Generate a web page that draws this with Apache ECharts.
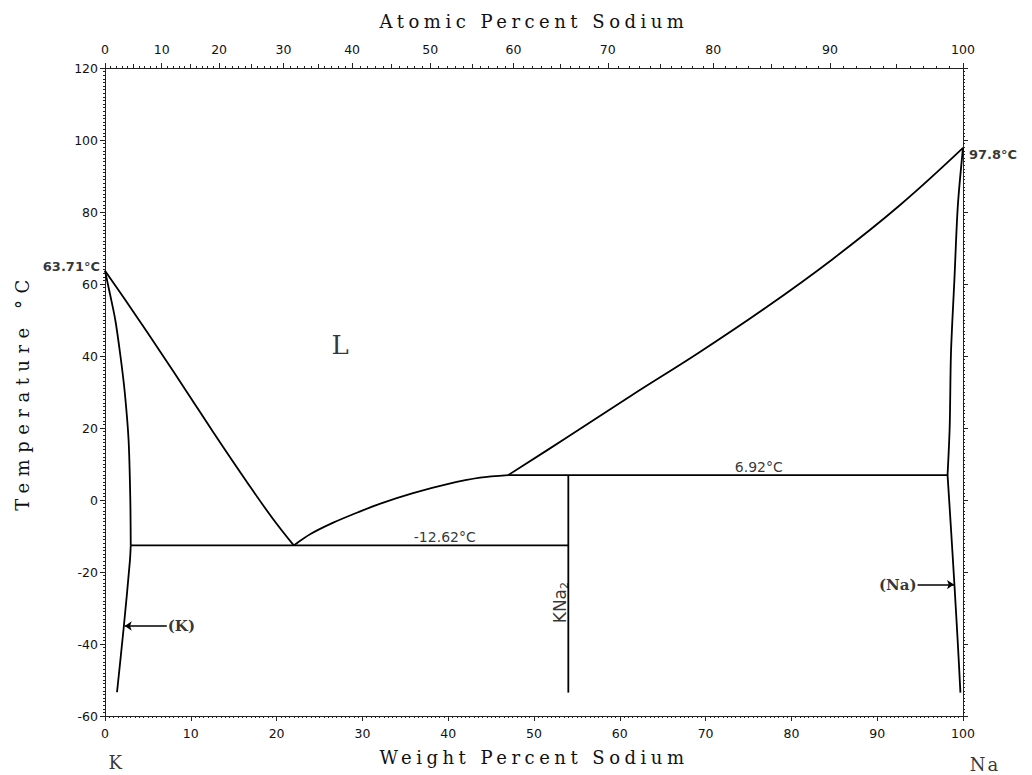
<!DOCTYPE html>
<html>
<head>
<meta charset="utf-8">
<script src="https://cdn.jsdelivr.net/npm/echarts@6/dist/echarts.min.js"></script>
<style>
html,body{margin:0;padding:0;background:#fff;}
#chart{width:1032px;height:775px;}
</style>
</head>
<body>
<div id="chart"></div>
<script>
// ---------- data (weight % Na, temperature °C) ----------
const atomicLabels = [0, 10, 20, 30, 40, 50, 60, 70, 80, 90, 100];
const atomicPosWt  = [0, 6.6, 13.3, 20.8, 28.8, 37.9, 47.6, 58.6, 70.9, 84.5, 100];

const kLiquidus    = [[0,63.71],[3.3,52.3],[6.5,41.0],[9.6,29.8],[12.6,18.9],[16.6,4.8],[19.5,-5.0],[22,-12.62]];
const kna2Liquidus = [[22,-12.62],[24,-9.4],[26.6,-6.3],[29.5,-3.4],[32.1,-1.0],[35.9,1.9],[39.9,4.4],[43.7,6.2],[47,6.92]];
const naLiquidus   = [[47,6.92],[53.6,17.0],[61.4,29.1],[69.2,40.9],[77,53.4],[84.8,66.9],[92.6,81.8],[100,97.8]];
const kSolidus     = [[0,63.71],[0.6,57],[1.2,50],[1.8,40],[2.3,30],[2.75,16.6],[2.95,0],[3.0,-12.62]];
const kSolvus      = [[3.0,-12.62],[2.9,-17],[2.2,-35],[1.4,-53.4]];
const naSolidus    = [[100,97.8],[99.4,81.8],[99.0,61.3],[98.6,40.9],[98.45,20.4],[98.2,6.92]];
const naSolvus     = [[98.2,6.92],[98.6,-8],[99.0,-23.5],[99.4,-40],[99.7,-53.5]];
const eutecticLine   = [[3.0,-12.62],[54,-12.62]];
const peritecticLine = [[47,6.92],[98.2,6.92]];
const kna2Line       = [[54,6.92],[54,-53.5]];
const kArrow  = [[7.2,-35],[2.3,-35]];
const naArrow = [[94.7,-23.5],[98.95,-23.5]];

const noteText = ['63.71°C','97.8°C','6.92°C','-12.62°C','L','(K)','(Na)','K','Na','KNa2'];
const noteAt   = [[0,64.8],[100,96],[76.2,6.92],[39.6,-12.62],[27.4,43],[7.2,-35],[94.7,-23.5],[1.2,-60],[100,-60],[53.0,-28.5]];

// ---------- tick helpers (top atomic-percent axis) ----------
const atomicMinor = [], atomicMid = [];
for (let i = 0; i < atomicPosWt.length - 1; i++) {
  for (let k = 1; k < 10; k++) {
    const v = atomicPosWt[i] + (atomicPosWt[i+1] - atomicPosWt[i]) * k / 10;
    if (k === 5) atomicMid.push(v); else atomicMinor.push(v);
  }
}

const sans = 'DejaVu Sans';
const serif = 'DejaVu Serif';
const BLACK = '#000';

const noteStyles = [
  {position:'left', distance:5, fontFamily:sans, fontWeight:'bold', fontSize:13},
  {position:'right', distance:6, fontFamily:sans, fontWeight:'bold', fontSize:13},
  {position:'top', distance:1, fontFamily:sans, fontSize:14},
  {position:'top', distance:1, fontFamily:sans, fontSize:14},
  {position:'inside', fontFamily:serif, fontSize:26},
  {position:'right', distance:1, fontFamily:serif, fontWeight:'bold', fontSize:15},
  {position:'left', distance:1, fontFamily:serif, fontWeight:'bold', fontSize:15},
  {position:'inside', offset:[0,46], fontFamily:serif, fontSize:18},
  {position:'inside', offset:[22,48], fontFamily:serif, fontSize:18},
  {position:'inside', rotate:90, fontFamily:sans, fontSize:17,
   formatter:'KNa{s|2}', rich:{s:{fontFamily:sans, fontSize:11, padding:[10,0,0,0]}}}
];

function lineSeries(name, data, smooth) {
  return {
    name, type:'line', data, showSymbol:false, symbol:'none',
    smooth: smooth || false,
    lineStyle:{color:BLACK, width:1.8}, silent:true, z:5
  };
}
function arrowSeries(name, coords) {
  return {
    name, type:'lines', coordinateSystem:'cartesian2d',
    symbol:['none','arrow'], symbolSize:7,
    lineStyle:{color:BLACK, width:1.5, opacity:1},
    data:[{coords}], silent:true, z:6
  };
}

const axisLineStyle = {color:'#222', width:1};
const tickLabel = {color:'#111', fontFamily:sans, fontSize:12.5};
const titleStyle = {color:'#111', fontFamily:serif, fontSize:18};

const option = {
  animation:false,
  backgroundColor:'#fff',
  grid:{left:105, right:69, top:68, bottom:59, containLabel:false},
  xAxis:[
    {
      type:'value', position:'bottom', min:0, max:100, interval:10,
      name:'Weight Percent Sodium', nameLocation:'middle', nameGap:32,
      nameTextStyle:titleStyle,
      axisLine:{show:true, onZero:false, lineStyle:axisLineStyle},
      axisTick:{show:true, length:5, lineStyle:axisLineStyle},
      minorTick:{show:true, splitNumber:20, length:2, lineStyle:axisLineStyle},
      axisLabel:Object.assign({margin:11}, tickLabel),
      splitLine:{show:false}
    },
    {
      type:'value', position:'top', min:0, max:100,
      name:'Atomic Percent Sodium', nameLocation:'middle', nameGap:38,
      nameTextStyle:titleStyle,
      axisLine:{show:true, onZero:false, lineStyle:axisLineStyle},
      axisTick:{show:true, length:5, customValues:atomicPosWt, lineStyle:axisLineStyle},
      axisLabel:Object.assign({margin:12, customValues:atomicPosWt,
        formatter:function(v){
          for (let i = 0; i < atomicPosWt.length; i++) {
            if (Math.abs(atomicPosWt[i]-v) < 1e-6) return String(atomicLabels[i]);
          }
          return '';
        }}, tickLabel),
      splitLine:{show:false}
    },
    {
      type:'value', position:'top', min:0, max:100,
      axisLine:{show:false, onZero:false},
      axisTick:{show:true, length:4, customValues:atomicMid, lineStyle:axisLineStyle},
      axisLabel:{show:false}, splitLine:{show:false}
    },
    {
      type:'value', position:'top', min:0, max:100,
      axisLine:{show:false, onZero:false},
      axisTick:{show:true, length:2, customValues:atomicMinor, lineStyle:axisLineStyle},
      axisLabel:{show:false}, splitLine:{show:false}
    }
  ],
  yAxis:[
    {
      type:'value', position:'left', min:-60, max:120, interval:20,
      name:'Temperature °C', nameLocation:'middle', nameGap:74, nameRotate:90,
      nameTextStyle:titleStyle,
      axisLine:{show:true, onZero:false, lineStyle:axisLineStyle},
      axisTick:{show:true, length:5, lineStyle:axisLineStyle},
      minorTick:{show:true, splitNumber:20, length:2, lineStyle:axisLineStyle},
      axisLabel:Object.assign({margin:7}, tickLabel),
      splitLine:{show:false}
    },
    {
      type:'value', position:'right', min:-60, max:120, interval:20,
      axisLine:{show:true, onZero:false, lineStyle:axisLineStyle},
      axisTick:{show:true, length:5, lineStyle:axisLineStyle},
      minorTick:{show:true, splitNumber:20, length:2, lineStyle:axisLineStyle},
      axisLabel:{show:false},
      splitLine:{show:false}
    }
  ],
  series:[
    lineSeries('K liquidus', kLiquidus, 0.4),
    lineSeries('KNa2 liquidus', kna2Liquidus, 0.3),
    lineSeries('Na liquidus', naLiquidus, 0.4),
    lineSeries('K solidus', kSolidus, 0.3),
    lineSeries('K solvus', kSolvus, 0.3),
    lineSeries('Na solidus', naSolidus, 0.3),
    lineSeries('Na solvus', naSolvus, 0.3),
    lineSeries('Eutectic', eutecticLine),
    lineSeries('Peritectic', peritecticLine),
    lineSeries('KNa2', kna2Line),
    arrowSeries('K arrow', kArrow),
    arrowSeries('Na arrow', naArrow),
    {
      name:'notes', type:'scatter', symbolSize:0, silent:true, z:7,
      data: noteText.map(function(t, i){
        return {
          name:t, value:noteAt[i],
          label:Object.assign({show:true, color:'#000', formatter:t}, noteStyles[i])
        };
      })
    }
  ]
};

const chart = echarts.init(document.getElementById('chart'), null, {renderer:'svg', width:1032, height:775});
chart.setOption(option);

// letter spacing for the serif titles, as in the reference
const spacing = {
  'Weight Percent Sodium':'4.5px',
  'Atomic Percent Sodium':'4.5px',
  'Temperature °C':'6.5px',
  'Na':'2px'
};
function applySpacing(){
  document.querySelectorAll('#chart svg text').forEach(function(el){
    const s = spacing[el.textContent];
    if (s) el.style.letterSpacing = s;
  });
}
applySpacing();
chart.on('finished', applySpacing);
</script>
</body>
</html>
